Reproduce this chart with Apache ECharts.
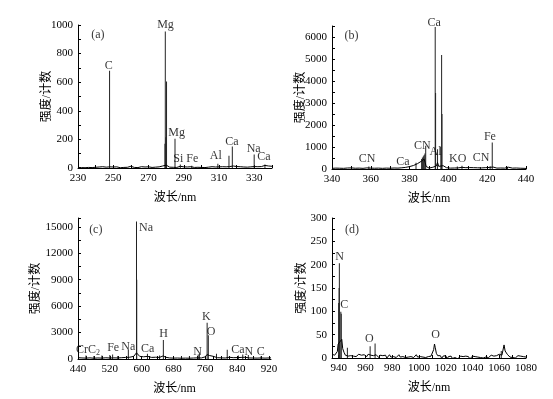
<!DOCTYPE html>
<html>
<head>
<meta charset="utf-8">
<script src="https://cdn.jsdelivr.net/npm/echarts@6/dist/echarts.min.js"></script>
<style>html,body{margin:0;padding:0;background:#fff}#c{width:553px;height:399px}</style>
</head>
<body>
<div id="c"></div>
<script>
// ---------- Panel (a): 230-340 nm ----------
const baseA = [[230,4],[231,8],[232,3],[233,7],[234,2],[235,9],[236,4],[237,6],[238,3],[239,8],[240,5],[241,2],[242,7],[243,4],[244,9],[245,3],[246,6],[247,10],[248,8],[249,4],[250,7],[251,3],[252,8],[253,5],[254,2],[255,7],[256,4],[257,9],[258,5],[259,3],[260,12],[261,6],[262,4],[263,8],[264,3],[265,6],[266,9],[267,4],[268,7],[269,3],[270,8],[271,5],[272,4],[273,9],[274,6],[275,3],[276,8],[277,10],[278,14],[279,25],[280,20],[281,10],[282,6],[283,8],[284,5],[285,9],[286,4],[287,7],[288,12],[289,5],[290,8],[291,4],[292,7],[293,3],[294,9],[295,6],[296,4],[297,8],[298,5],[299,10],[300,4],[301,7],[302,3],[303,8],[304,6],[305,4],[306,9],[307,5],[308,7],[309,15],[310,8],[311,5],[312,9],[313,6],[314,8],[315,12],[316,10],[317,9],[318,14],[319,7],[320,10],[321,6],[322,9],[323,12],[324,7],[325,10],[326,6],[327,11],[328,8],[329,12],[330,10],[331,14],[332,9],[333,13],[334,10],[335,15],[336,18],[337,11],[338,14],[339,9],[340,12]];
const peaksA = [[247.9,680],[279.3,170],[279.5,955],[279.8,215],[280.2,605],[285.0,205],[288.0,25],[294.5,15],[309.3,30],[315.6,85],[317.5,150],[329.9,95],[336.0,25]];
const notesA = [[241.3,930,'(a)'],[247.5,713,'C'],[279.6,1000,'Mg'],[285.9,247,'Mg'],[291.1,61,'Si Fe'],[308.1,84,'Al'],[317.3,184,'Ca'],[329.6,133,'Na'],[335.4,79,'Ca']];
const xTicksA = [230,240,250,260,270,280,290,300,310,320,330,340];
const xLabelsA = [230,250,270,290,310,330];
const yTicksA = [0,100,200,300,400,500,600,700,800,900,1000];
const yLabelsA = [0,200,400,600,800,1000];

// ---------- Panel (b): 340-440 nm ----------
const baseB = [[340,30],[341,10],[342,40],[343,15],[344,35],[345,10],[346,30],[347,20],[348,45],[349,15],[350,50],[351,20],[352,35],[353,10],[354,40],[355,25],[356,30],[357,15],[358,50],[359,90],[360,40],[361,20],[362,35],[363,15],[364,40],[365,20],[366,30],[367,15],[368,40],[369,25],[370,35],[371,20],[372,45],[373,30],[374,40],[375,45],[376,55],[377,60],[378,75],[379,90],[380,110],[381,130],[382,160],[383,195],[384,240],[385,290],[386,350],[386.5,420],[387,380],[387.5,450],[388,300],[388.5,120],[389,60],[390,40],[391,50],[392,80],[393,150],[393.8,140],[394.4,300],[395,120],[396,200],[397.3,150],[398,80],[399,60],[400,50],[401,40],[402,55],[403,45],[404,70],[405,50],[406,60],[407,75],[408,55],[409,60],[410,50],[411,65],[412,55],[413,60],[414,70],[415,55],[416,65],[417,50],[418,80],[419,60],[420,55],[421,70],[422,60],[423,90],[424,50],[425,40],[426,35],[427,45],[428,30],[429,40],[430,60],[431,80],[432,50],[433,40],[434,30],[435,45],[436,25],[437,35],[438,20],[439,30],[440,25]];
const peaksB = [[359.0,110],[383.3,280],[386.2,460],[386.6,520],[387.1,580],[387.5,640],[387.9,700],[388.3,1060],[393.2,6450],[393.4,3450],[394.4,900],[396.1,1000],[396.5,5180],[396.7,2500],[404.6,110],[407.0,150],[416.5,90],[421.5,120],[422.6,1200],[430.5,100]];
const notesB = [[350.1,6045,'(b)'],[392.6,6650,'Ca'],[358.1,440,'CN'],[376.5,330,'Ca'],[386.5,1045,'CN'],[393.4,790,'Al'],[404.8,440,'KO'],[416.8,515,'CN'],[421.4,1440,'Fe']];
const xTicksB = [340,350,360,370,380,390,400,410,420,430,440];
const xLabelsB = [340,360,380,400,420,440];
const yTicksB = [0,500,1000,1500,2000,2500,3000,3500,4000,4500,5000,5500,6000,6500];
const yLabelsB = [0,1000,2000,3000,4000,5000,6000];

// ---------- Panel (c): 440-925 nm ----------
const baseC = [[440,150],[445,300],[450,120],[455,200],[460,100],[465,250],[470,130],[475,180],[480,90],[485,220],[490,120],[495,160],[500,100],[505,230],[510,140],[515,180],[520,110],[525,260],[530,130],[535,170],[540,120],[545,230],[550,150],[555,200],[560,180],[565,300],[570,200],[575,250],[580,300],[584,450],[587,700],[590,500],[595,300],[600,200],[605,250],[610,180],[615,300],[620,220],[625,180],[630,150],[635,200],[640,130],[645,180],[650,200],[654,350],[660,200],[665,150],[670,120],[675,180],[680,100],[685,160],[690,110],[695,150],[700,90],[705,170],[710,100],[715,140],[720,90],[725,160],[730,110],[735,150],[740,130],[745,220],[750,120],[755,160],[760,250],[764,500],[770,400],[775,350],[780,300],[785,180],[790,150],[795,200],[800,130],[805,150],[810,110],[815,160],[820,200],[825,130],[830,150],[835,100],[840,160],[845,120],[850,180],[855,130],[860,200],[865,150],[870,120],[875,170],[880,110],[885,150],[890,100],[895,160],[900,120],[905,140],[910,100],[915,150],[920,120],[925,130]];
const peaksC = [[460,400],[480,350],[500,400],[520,450],[527,500],[540,350],[566.5,1050],[587.0,15600],[587.6,9000],[614.5,600],[645,400],[654.5,2150],[700,300],[720,350],[742,500],[745,600],[764.5,4100],[767.5,2700],[788,600],[815,1050],[843,400],[854,500],[868,450],[900,300]];
const notesC = [[484.7,14660,'(c)'],[611,14920,'Na'],[465.3,1020,'CrC₂'],[528.4,1215,'Fe'],[566.3,1330,'Na'],[615.3,1100,'Ca'],[654.8,2800,'H'],[740.7,830,'N'],[762.6,4770,'K'],[774.5,3100,'O'],[841.7,1020,'Ca'],[869.5,830,'N'],[899,830,'C']];
const xTicksC = [440,460,480,500,520,540,560,580,600,620,640,660,680,700,720,740,760,780,800,820,840,860,880,900,920];
const xLabelsC = [440,520,600,680,760,840,920];
const yTicksC = [0,1500,3000,4500,6000,7500,9000,10500,12000,13500,15000,16000];
const yLabelsC = [0,3000,6000,9000,12000,15000];

// ---------- Panel (d): 935-1080 nm ----------
const baseD = [[935,8],[936,12],[937,6],[938,10],[939,14],[939.6,30],[942.3,40],[943,20],[944,12],[945,6],[946,9],[947,4],[948,7],[949,5],[950,8],[951,4],[952,7],[953,3],[954,6],[955,8],[956,4],[957,6],[958,2],[959,7],[960,5],[961,3],[962,8],[963,4],[964,6],[965,2],[966,5],[967,3],[968,7],[969,4],[970,1],[971,6],[972,3],[973,5],[974,2],[975,6],[976,0],[977,4],[978,7],[979,2],[980,5],[981,3],[982,6],[983,1],[984,4],[985,7],[986,2],[987,5],[988,3],[989,6],[990,1],[991,4],[992,2],[993,6],[994,3],[995,5],[996,1],[997,4],[998,7],[999,2],[1000,5],[1001,3],[1002,6],[1003,2],[1004,4],[1005,1],[1006,5],[1007,3],[1008,6],[1009,4],[1010,8],[1011,18],[1011.6,30],[1012.2,22],[1013,10],[1014,5],[1015,2],[1016,5],[1017,-1],[1018,4],[1019,1],[1020,5],[1021,-2],[1022,3],[1023,0],[1024,4],[1025,-1],[1026,3],[1027,1],[1028,5],[1029,-2],[1030,2],[1031,4],[1032,0],[1033,3],[1034,-1],[1035,4],[1036,1],[1037,3],[1038,-2],[1039,2],[1040,4],[1041,0],[1042,3],[1043,-1],[1044,2],[1045,4],[1046,1],[1047,3],[1048,0],[1049,4],[1050,2],[1051,5],[1052,1],[1053,3],[1054,6],[1055,2],[1056,4],[1057,1],[1058,5],[1059,3],[1060,8],[1061,12],[1062,6],[1063,10],[1063.6,28],[1064.4,15],[1066,8],[1067,5],[1068,2],[1069,6],[1070,1],[1071,4],[1072,0],[1073,3],[1074,5],[1075,1],[1076,4],[1077,0],[1078,3],[1079,5],[1080,2]];
const peaksD = [[940.0,118],[940.3,150],[940.5,203],[941.6,99],[941.9,95],[946.5,22],[963.5,25],[967.2,31],[1061.5,15]];
const notesD = [[950,274,'(d)'],[940.7,217,'N'],[944.2,113,'C'],[962.9,41,'O'],[1012.5,49,'O']];
const xTicksD = [940,950,960,970,980,990,1000,1010,1020,1030,1040,1050,1060,1070,1080];
const xLabelsD = [940,960,980,1000,1020,1040,1060,1080];
const yTicksD = [0,25,50,75,100,125,150,175,200,225,250,275,300];
const yLabelsD = [0,50,100,150,200,250,300];

const xName = '波长/nm';
const yName = '强度/计数';

const FONT = '"Liberation Serif","DejaVu Serif","Noto Sans CJK SC",serif';
const panels = [
  {base: baseA, peaks: peaksA, notes: notesA, xt: xTicksA, xl: xLabelsA, yt: yTicksA, yl: yLabelsA, xmin: 230, xmax: 340, ymax: 1000, grid: {left: 78, right: 281, top: 25, bottom: 231}, yGap: 25},
  {base: baseB, peaks: peaksB, notes: notesB, xt: xTicksB, xl: xLabelsB, yt: yTicksB, yl: yLabelsB, xmin: 340, xmax: 440, ymax: 6500, grid: {left: 332, right: 27, top: 26, bottom: 230}, yGap: 25},
  {base: baseC, peaks: peaksC, notes: notesC, xt: xTicksC, xl: xLabelsC, yt: yTicksC, yl: yLabelsC, xmin: 440, xmax: 925, ymax: 16000, grid: {left: 78, right: 282, top: 218, bottom: 40}, yGap: 36},
  {base: baseD, peaks: peaksD, notes: notesD, xt: xTicksD, xl: xLabelsD, yt: yTicksD, yl: yLabelsD, xmin: 935, xmax: 1080, ymax: 300, grid: {left: 332, right: 27, top: 218, bottom: 41}, yGap: 24}
];

const plain = v => String(v);
const axisCommon = {
  axisLine: {show: true, lineStyle: {color: '#000', width: 1}},
  splitLine: {show: false},
  axisLabel: {color: '#000', fontFamily: FONT, fontSize: 11, formatter: plain},
  nameTextStyle: {color: '#000', fontFamily: FONT, fontSize: 12}
};

const option = {
  animation: false,
  backgroundColor: '#fff',
  grid: panels.map(p => Object.assign({containLabel: false}, p.grid)),
  xAxis: panels.map((p, i) => ({
    type: 'value', gridIndex: i, min: p.xmin, max: p.xmax,
    axisLine: axisCommon.axisLine, splitLine: axisCommon.splitLine,
    axisTick: {show: true, inside: true, length: 3, customValues: p.xt, lineStyle: {color: '#000'}},
    axisLabel: Object.assign({}, axisCommon.axisLabel, {customValues: p.xl, margin: 5, showMinLabel: true, showMaxLabel: true}),
    name: xName, nameLocation: 'middle', nameGap: 24, nameMoveOverlap: false,
    nameTextStyle: axisCommon.nameTextStyle
  })),
  yAxis: panels.map((p, i) => ({
    type: 'value', gridIndex: i, min: 0, max: p.ymax,
    axisLine: axisCommon.axisLine, splitLine: axisCommon.splitLine,
    axisTick: {show: true, inside: true, length: 3, customValues: p.yt, lineStyle: {color: '#000'}},
    axisLabel: Object.assign({}, axisCommon.axisLabel, {customValues: p.yl, margin: 5}),
    name: yName, nameLocation: 'middle', nameGap: p.yGap, nameRotate: 90, nameMoveOverlap: false,
    nameTextStyle: axisCommon.nameTextStyle
  })),
  series: []
};

const noteFormatter = q => {
  const t = q.value[2];
  return t.indexOf('₂') >= 0 ? '{n|' + t.replace('₂', '') + '}{s|2}' : '{n|' + t + '}';
};

panels.forEach((p, i) => {
  option.series.push({
    type: 'line', xAxisIndex: i, yAxisIndex: i, data: p.base,
    symbol: 'none', lineStyle: {color: '#000', width: 1}, z: 3
  });
  option.series.push({
    type: 'bar', xAxisIndex: i, yAxisIndex: i, data: p.peaks,
    barWidth: 1, itemStyle: {color: '#222'}, z: 2
  });
  option.series.push({
    type: 'scatter', xAxisIndex: i, yAxisIndex: i, data: p.notes,
    symbolSize: 0, clip: false, z: 5,
    label: {show: true, position: 'inside', color: '#000', fontFamily: FONT, fontSize: 12,
      formatter: noteFormatter,
      rich: {
        n: {fontFamily: FONT, fontSize: 12, color: '#000'},
        s: {fontFamily: FONT, fontSize: 8, color: '#000', padding: [6, 0, 0, 0]}
      }}
  });
});

const chart = echarts.init(document.getElementById('c'), null, {renderer: 'canvas'});
chart.setOption(option);
</script>
</body>
</html>
